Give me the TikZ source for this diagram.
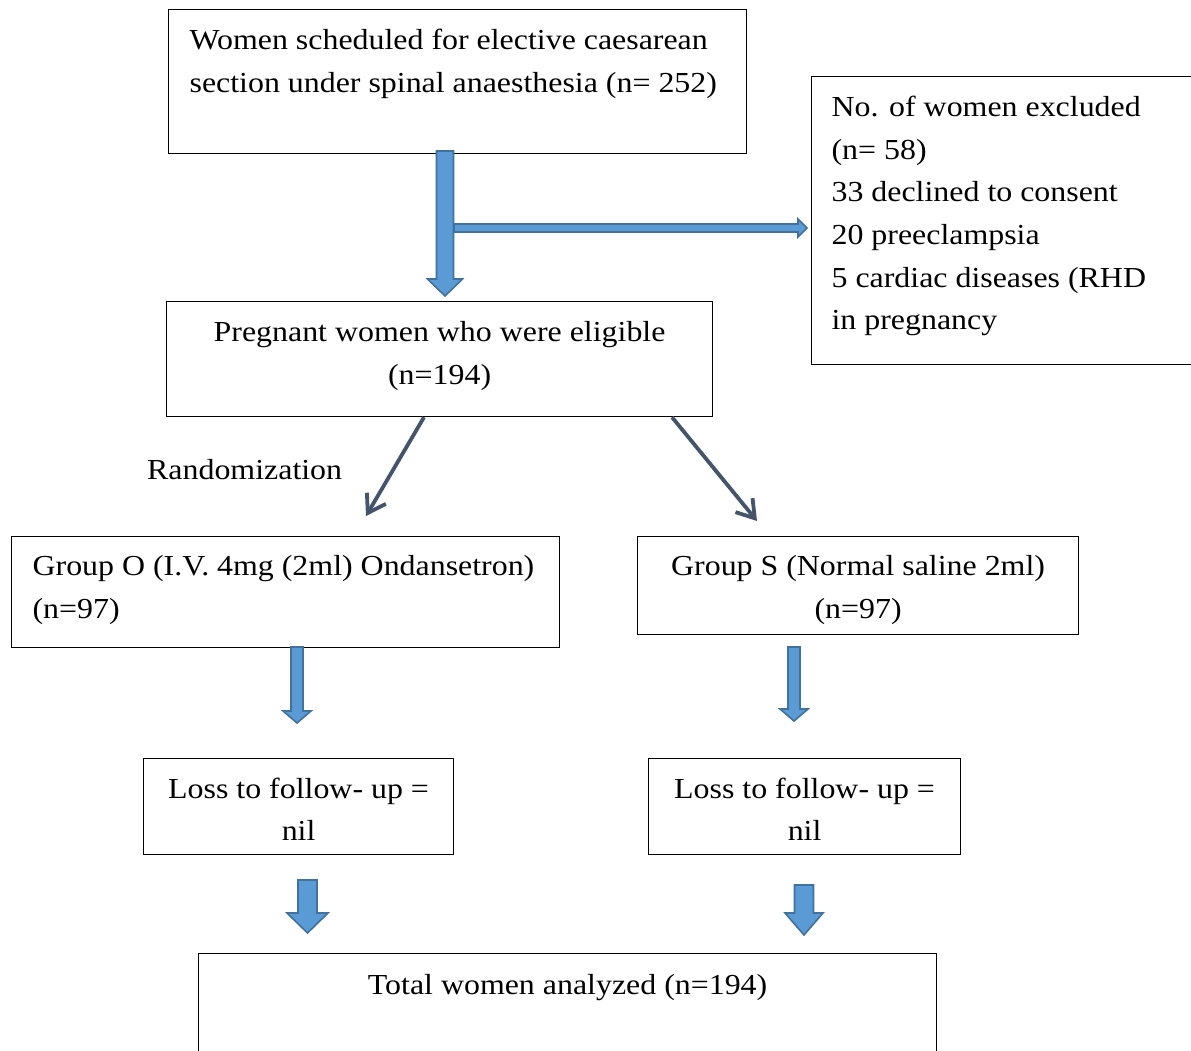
\documentclass[tikz,border=0pt]{standalone}
\usepackage{fontspec}
\setmainfont{Liberation Serif}[FakeStretch=1.1]
\usetikzlibrary{arrows.meta,calc}
\definecolor{arrfill}{HTML}{5B9BD5}
\definecolor{arrline}{HTML}{41719C}
\definecolor{slate}{HTML}{44546A}
\newcommand\dnblock[6]{\filldraw[blockarrow] (#1-#5,#2) -- (#1+#5,#2) -- (#1+#5,#3) -- (#1+#6,#3) -- (#1,#4) -- (#1-#6,#3) -- (#1-#5,#3) -- cycle;}
\newcommand\lbox[5]{\parbox[t][#2][t]{#1}{\vspace*{#3}\raggedright\leftskip=#4\relax #5}}
\newcommand\cbox[4]{\parbox[t][#2][t]{#1}{\vspace*{#3}\centering #4}}
\begin{document}
\begin{tikzpicture}[x=1pt,y=-1pt,
  every node/.style={font=\fontsize{29}{42.7}\selectfont},
  frame/.style={draw=black,line width=1.2pt,inner sep=0pt,anchor=north west},
  blockarrow/.style={fill=arrfill,draw=arrline,line width=1.6pt,line join=miter},
  diag/.style={draw=slate,line width=3.8pt,-{Straight Barb[length=17pt,width=22pt,line width=3.8pt]}}]
\clip (0,0) rectangle (1191,1050);
\fill[white] (0,0) rectangle (1191,1050);
% boxes
\node[frame] (top) at (168,9) {\lbox{578pt}{144pt}{10pt}{21pt}{\strut Women scheduled for elective caesarean\\\strut section under spinal anaesthesia (n= 252)}};
\node[frame] (excl) at (811,76) {\lbox{420pt}{288pt}{10pt}{20pt}{\strut No. of women excluded\\\strut (n= 58)\\\strut 33 declined to consent\\\strut 20 preeclampsia\\\strut 5 cardiac diseases (RHD\\\strut in pregnancy}};
\node[frame] (elig) at (166,301) {\cbox{546pt}{115pt}{10.5pt}{\strut Pregnant women who were eligible\\\strut (n=194)}};
\node[frame] (gO) at (11,536) {\lbox{548pt}{111pt}{9pt}{21pt}{\strut Group O (I.V. 4mg (2ml) Ondansetron)\\\strut (n=97)}};
\node[frame] (gS) at (637,536) {\cbox{441pt}{98pt}{9pt}{\strut Group S (Normal saline 2ml)\\\strut (n=97)}};
\node[frame] (lossL) at (143,758) {\cbox{310pt}{96pt}{9.5pt}{\strut Loss to follow- up =\\\strut nil}};
\node[frame] (lossR) at (648,758) {\cbox{312pt}{96pt}{9.5pt}{\strut Loss to follow- up =\\\strut nil}};
\node[frame] (total) at (198,953) {\cbox{738pt}{130pt}{11pt}{\strut Total women analyzed (n=194)}};
\node[anchor=base west,inner sep=0pt] (rand) at (147,479) {Randomization};
% block arrows
\dnblock{445}{151}{279}{296}{8.5}{17.5}
\filldraw[blockarrow] (454,224) -- (798,224) -- (798,219) -- (807,228) -- (798,237) -- (798,232) -- (454,232) -- cycle;
\dnblock{297}{647}{711}{723}{6}{14}
\dnblock{794}{647}{709}{721}{6}{14}
\dnblock{307.5}{880}{913}{933}{9.5}{20.5}
\dnblock{804}{885}{913}{935}{9.5}{19}
% randomization arrows
\coordinate (tipO) at (366,516);
\coordinate (tipS) at (757,521);
\draw[diag] ($(elig.south west)+(258,0)$) -- (tipO);
\draw[diag] ($(elig.south west)+(506,0)$) -- (tipS);
\end{tikzpicture}
\end{document}
